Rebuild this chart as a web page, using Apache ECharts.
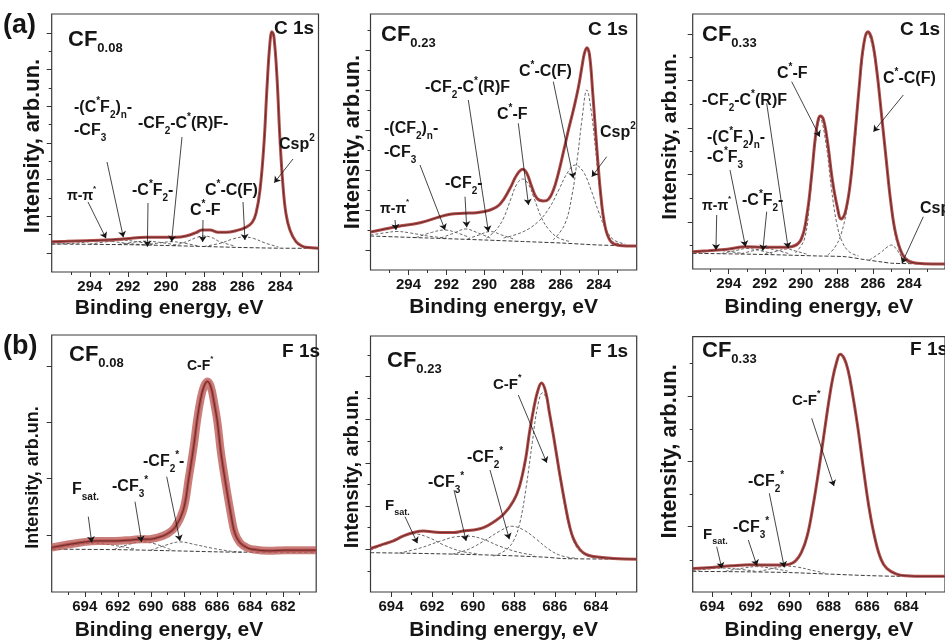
<!DOCTYPE html>
<html>
<head>
<meta charset="utf-8">
<script src="https://cdn.jsdelivr.net/npm/echarts@6/dist/echarts.min.js"></script>
<style>
html, body { margin: 0; padding: 0; background: #fff; }
#main { width: 945px; height: 642px; }
</style>
</head>
<body>
<div id="main"></div>
<script>
// ---- tick values ----
var cTickLabels = [284, 286, 288, 290, 292, 294];
var cMinorTicks = [283, 285, 287, 289, 291, 293, 295];
var f008TickLabels = [682, 684, 686, 688, 690, 692, 694];
var f008MinorTicks = [681, 683, 685, 687, 689, 691, 693, 695];
var fTickLabels = [684, 686, 688, 690, 692, 694];
var fMinorTicks = [683, 685, 687, 689, 691, 693];

var c008YMajor = [19, 55.7, 92.4, 129.1, 165.8, 202.5, 239.2];
var c008YMinor = [37.4, 74, 110.8, 147.5, 184.2, 220.9];
var c023YMajor = [20, 60, 100, 140, 180, 220];
var c023YMinor = [40, 80, 120, 160, 200, 240];
var c033YMajor = [47, 94.3, 141, 188.3, 235];
var c033YMinor = [23.5, 70.7, 117.7, 164.7, 211.7];
var f008YMajor = [57, 114, 170, 227];
var f008YMinor = [];
var f023YMajor = [43, 86.3, 129.7, 173, 216.3];
var f023YMinor = [21.3, 64.7, 108, 151.3, 194.7, 238];
var f033YMajor = [65.7, 131.3, 196.3];
var f033YMinor = [32.3, 98, 163.7, 229.7];

// ---- C 1s, CF0.08 : [binding energy, intensity] ----
var c008Spectrum = [[296,30.3],[295.24,30.7],[294.2,31.3],[293.15,32],[292.1,33.3],[291.05,34.7],[290,34.7],[289.48,34.7],[288.95,36],[288.43,39.3],[288.11,42],[287.69,42],[287.27,39.7],[286.85,39.7],[286.33,41.3],[285.81,44.7],[285.49,49.3],[285.28,58.7],[285.07,82],[284.86,128.7],[284.7,185.3],[284.55,228.7],[284.44,240.3],[284.34,235.3],[284.18,195.3],[284.02,132],[283.86,85.3],[283.71,58.7],[283.5,42],[283.18,30.3],[282.87,26],[282.66,24.7],[282,23.7]];
var c008Baseline = [[296,28],[292,27.3],[290,26.5],[288,25.5],[286,24.5],[284,23.8],[282,23.7]];
var c008Pi = [[296,28],[294.8,28.8],[293.9,30.5],[293.36,31.2],[292.8,30.5],[291.9,28.3],[290.9,27]];
var c008Cf3 = [[294,28],[293,30.5],[292.31,31.8],[291.6,30.5],[290.6,27.2]];
var c008Cf2 = [[292.5,27.5],[291.6,30],[291.05,30.8],[290.4,29.8],[289.4,26.8]];
var c008Cfr = [[291.1,27],[290.3,29.2],[289.69,30.3],[289.1,29],[288.3,26]];
var c008Cf = [[289.6,26.3],[288.9,30.5],[288.4,34.5],[288.01,36],[287.6,34.5],[287.2,30.5],[286.4,26]];
var c008Ccf = [[288,25.5],[287.1,29],[286.5,33],[285.91,35],[285.4,33.5],[284.8,29],[284.1,25]];

// ---- C 1s, CF0.23 ----
var c023Spectrum = [[296,38],[294.62,43.3],[293.39,47.3],[292.34,53.3],[291.82,55.7],[291.12,56.7],[290.41,57.3],[289.71,60],[289.18,66],[288.66,81.7],[288.31,95],[287.99,100.7],[287.78,96.7],[287.52,83.3],[287.25,71.7],[286.9,69],[286.64,70.7],[286.38,80],[286.12,96.7],[285.85,118.3],[285.59,140],[285.33,160],[285.06,183.3],[284.88,203.3],[284.75,216.7],[284.62,222.3],[284.48,215],[284.31,176.7],[284.09,120],[283.88,73.3],[283.66,43.3],[283.39,29.3],[283.04,25],[282.34,24],[282,24]];
var c023Baseline = [[296,34],[293,32],[290,30],[288,28.5],[286,27],[284,25],[282,24]];
var c023Pi = [[296,35],[295.3,37],[294.6,38.5],[293.9,37],[293,34],[292,32]];
var c023Cf3 = [[293.6,32.5],[292.8,37.5],[292.1,40],[291.5,37.5],[290.8,32.5]];
var c023Cf2 = [[292.3,32],[291.6,37],[291,41],[290.4,37.5],[289.7,32]];
var c023Cfr = [[290.9,31],[290.3,35],[289.7,38.5],[289.1,35],[288.4,30.5]];
var c023Cf = [[289.9,32],[289.4,40],[289,52],[288.6,72],[288.3,86],[288,91],[287.7,86],[287.4,72],[287,52],[286.6,40],[286.1,32],[285.5,28.5]];
var c023Ccf = [[289,32],[288,38],[287.2,48],[286.6,62],[286.1,80],[285.65,97],[285.24,105],[284.8,98],[284.4,80],[284,58],[283.6,40],[283.2,30],[282.6,26]];
var c023Csp = [[286.4,30],[285.8,45],[285.4,75],[285.1,115],[284.88,150],[284.62,180],[284.4,160],[284.15,118],[283.95,80],[283.7,45],[283.3,29],[282.8,26]];

// ---- C 1s, CF0.33 ----
var c033Spectrum = [[296,17.3],[295.13,18.3],[294.09,19.7],[293.05,22.3],[292.02,21.7],[290.98,21.7],[290.53,22.3],[290,29],[289.65,55.7],[289.39,95.7],[289.21,129],[289.04,149],[288.92,153],[288.74,149],[288.51,125.7],[288.25,89],[287.98,62.3],[287.76,50],[287.55,55.7],[287.28,82.3],[287.02,129],[286.76,182.3],[286.53,222.3],[286.28,237.3],[286.05,229],[285.79,199],[285.53,155.7],[285.26,109],[285,65.7],[284.74,35.7],[284.39,15.7],[284.04,8.3],[283.51,5.7],[282.72,5],[282,5]];
var c033Baseline = [[296,15.7],[292,14.5],[289,13],[287.55,12.3],[286.5,9.5],[285.5,7],[284.9,5.7],[282,5]];
var c033Pi = [[296,16],[295.2,17.5],[294.6,18.5],[294,17.5],[293.2,15.5]];
var c033Cf3 = [[294.4,15.5],[293.6,18.5],[293,20.5],[292.4,19],[291.6,15.5]];
var c033Cf2 = [[293.3,15.3],[292.6,18.5],[292,20.5],[291.4,19],[290.6,15]];
var c033Cfr = [[292,15],[291.3,18],[290.8,20],[290.3,18],[289.6,14.5]];
var c033Cf = [[290.3,16],[289.8,30],[289.5,70],[289.2,125],[288.92,150],[288.6,125],[288.3,80],[288,45],[287.7,27],[287.3,17],[286.8,13]];
var c033Ccf = [[288.5,14],[288.1,22],[287.76,35],[287.4,65],[287,125],[286.7,190],[286.28,235],[285.9,210],[285.5,150],[285.2,95],[284.9,50],[284.6,22],[284.2,8],[283.6,5.5]];
var c033Csp = [[286.2,9],[285.6,16],[285.2,22],[284.95,24],[284.7,20],[284.4,12],[284,6]];

// ---- F 1s, CF0.08 ----
var f008Spectrum = [[696,44.7],[694.23,49.7],[693.2,51.3],[692.16,51.3],[691.13,52.3],[690.61,53],[690.1,53],[689.58,54.7],[689.06,58],[688.55,64.7],[688.03,83],[687.72,113],[687.41,146.3],[687.2,173],[687,193],[686.79,206.3],[686.58,211.3],[686.38,206.3],[686.17,189.7],[685.97,169.7],[685.76,139.7],[685.45,106.3],[685.14,76.3],[684.93,59.7],[684.62,49.7],[684.21,44.7],[683.9,43],[682.86,41.3],[681.83,42],[680,42]];
var f008Baseline = [[696,43],[692,42.5],[689,41.5],[686,40.3],[684.5,40],[680,40]];
var f008Sat = [[696,43.5],[694.6,47],[693.5,49],[692.3,47],[691,43.2]];
var f008Cf3 = [[692.2,43],[691.3,48],[690.5,50.5],[689.7,48],[688.8,42.5]];
var f008Cf2 = [[690,42],[689.1,47],[688.24,50.3],[687.3,47.5],[686.3,44],[685.2,41],[684.5,40]];

// ---- F 1s, CF0.23 ----
var f023Spectrum = [[695,43.7],[694.37,48],[693.88,51.3],[693.39,56.3],[692.9,59.7],[692.42,61.3],[691.93,60.3],[691.44,59.7],[690.95,59.7],[690.46,61.3],[689.97,62.3],[689.48,64.7],[688.99,70.3],[688.5,78],[688.02,91.3],[687.72,106.3],[687.43,133],[687.24,159.7],[687.04,183],[686.84,201.3],[686.65,209.7],[686.45,201.3],[686.26,179.7],[686.06,156.3],[685.77,119.7],[685.48,86.3],[685.28,66.3],[685.08,53],[684.79,43],[684.5,38],[684.11,35.7],[683.13,33.7],[682,33]];
var f023Baseline = [[695,39.5],[692,38.5],[689,37],[686.5,35],[685.5,33.5],[682,33]];
var f023Sat = [[695,42],[694.3,48],[693.6,55],[692.9,58.5],[692.2,55],[691.4,47],[690.6,41],[689.8,38.5]];
var f023Cf3 = [[693.6,39],[692.6,44],[691.6,51],[690.8,55.5],[690.2,56],[689.5,53],[688.7,46],[687.8,40],[687,37]];
var f023Cf2 = [[691,38],[690.2,43],[689.4,52],[688.7,61],[688.1,66],[687.5,62],[686.9,53],[686.3,43],[685.7,36.5],[685,34]];
var f023Cf = [[689,36],[688.4,42],[688,52],[687.7,70],[687.4,105],[687.1,150],[686.85,185],[686.6,200],[686.35,190],[686.1,160],[685.8,120],[685.5,85],[685.2,58],[684.9,44],[684.5,37],[684,34]];

// ---- F 1s, CF0.33 ----
var f033Spectrum = [[695,23.7],[694,24.7],[693,26.3],[692,27.3],[691,27],[690.5,27],[690,28],[689.7,31.3],[689.4,39.7],[689.1,56.3],[688.8,86.3],[688.5,123],[688.2,163],[688,189.7],[687.8,213],[687.6,229.7],[687.4,238.7],[687.2,234.7],[687,223],[686.8,203],[686.5,166.3],[686.2,123],[685.9,83],[685.6,53],[685.3,33],[685,23.7],[684.5,18],[684,16.3],[683,15.7],[682,15.7]];
var f033Baseline = [[695,20.7],[692,20.2],[690,19.5],[688,18],[686,16.5],[684.5,15.8],[682,15.7]];
var f033Sat = [[695,21.5],[694.2,23],[693.5,24],[692.7,23],[691.8,21]];
var f033Cf3 = [[693.3,21],[692.4,24],[691.7,25.5],[691,24],[690.1,21]];
var f033Cf2 = [[691.6,20.5],[690.8,24],[690.2,26],[689.6,25],[688.9,22],[688.2,19]];

var FONT = '"Liberation Sans", Arial, sans-serif';
var INK = '#151515';
var RED = '#b44e4c';

// panel layout, annotation texts [markup, x, y, size] and arrows [x0, y0, energy, intensity]
var panels = [
  { box: [51.7, 14, 266.8, 258], range: [282, 296], labels: cTickLabels, minors: cMinorTicks,
    yMajor: c008YMajor, yMinor: c008YMinor, yGap: 8, ySize: 22, yPad: [0, 6, 0, 0], xGap: 26, xPad: [0, 32, 0, 0],
    spec: c008Spectrum, base: c008Baseline, comps: [c008Pi, c008Cf3, c008Cf2, c008Cfr, c008Cf, c008Ccf], noisy: false,
    texts: [['(a)', 3, 26, 27], ['CF_{0.08}', 68, 40, 22], ['C 1s', 274, 28.5, 19],
      ['-(C^*F_2)_n-', 74, 108, 16], ['-CF_3', 74, 131, 16], ['-CF_2-C^*(R)F-', 138, 124, 16],
      ['π-π^*', 67, 196, 14], ['-C^*F_2-', 132, 191, 16], ['C^*-C(F)', 205, 191, 16],
      ['C^*-F', 190, 211, 16], ['Csp^2', 279, 145, 16]],
    arrows: [[88, 202, 293.15, 33.7], [107, 162, 292.24, 34.7], [148, 203, 290.98, 25.3],
      [182, 137, 289.71, 30.3], [203, 220, 288.08, 30], [243, 202, 285.86, 32], [293, 159, 284.32, 89.3]] },
  { box: [370.5, 14, 266.2, 256], range: [282, 296], labels: cTickLabels, minors: cMinorTicks,
    yMajor: c023YMajor, yMinor: c023YMinor, yGap: 7, ySize: 22, yPad: [0, 0, 0, 0], xGap: 27, xPad: [0, 0, 0, 0],
    spec: c023Spectrum, base: c023Baseline, comps: [c023Pi, c023Cf3, c023Cf2, c023Cfr, c023Cf, c023Ccf, c023Csp], noisy: false,
    texts: [['CF_{0.23}', 381, 34.5, 22], ['C 1s', 588, 30, 19], ['-CF_2-C^*(R)F', 425, 88, 16],
      ['C^*-C(F)', 519, 72, 16], ['C^*-F', 497, 115, 16], ['-(CF_2)_n-', 384, 129, 16],
      ['-CF_3', 384, 153, 16], ['-CF_2-', 445, 184, 16], ['π-π^*', 380, 209, 14], ['Csp^2', 600, 133, 16]],
    arrows: [[395, 220, 294.66, 40], [420, 165, 292.08, 40], [465, 196.7, 290.94, 42.7],
      [468.3, 100, 289.8, 38.3], [518.3, 123.3, 287.69, 65], [553.3, 81.7, 285.33, 91.7], [606.7, 156.7, 284.36, 93.3]] },
  { box: [692.7, 14, 266, 255], range: [282, 296], labels: cTickLabels, minors: cMinorTicks,
    yMajor: c033YMajor, yMinor: c033YMinor, yGap: 12, ySize: 21, yPad: [0, 0, 0, 10], xGap: 28, xPad: [0, 0, 0, 0],
    spec: c033Spectrum, base: c033Baseline, comps: [c033Pi, c033Cf3, c033Cf2, c033Cfr, c033Cf, c033Ccf, c033Csp], noisy: false,
    texts: [['CF_{0.33}', 702, 34.5, 22], ['C 1s', 900, 30, 19], ['C^*-F', 777, 74, 16],
      ['C^*-C(F)', 883, 79, 16], ['-CF_2-C^*(R)F', 702, 101, 16], ['-(C^*F_2)_n-', 707, 138, 16],
      ['-C^*F_3', 707, 158, 16], ['π-π^*', 702, 206, 14], ['-C^*F_2-', 742, 201, 16], ['Csp^2', 920, 209, 16]],
    arrows: [[791.7, 81.7, 288.95, 132.3], [903.3, 95, 285.97, 137.3], [766.7, 103.3, 290.7, 20.7],
      [730, 170, 293.07, 22.3], [766.7, 211.7, 292.11, 18.3], [716.7, 215, 294.71, 19], [923.3, 216.7, 284.39, 5.7]] },
  { box: [51.7, 335, 264.5, 258], range: [680, 696], labels: f008TickLabels, minors: f008MinorTicks,
    yMajor: f008YMajor, yMinor: f008YMinor, yGap: 10, ySize: 18, yPad: [0, 28, 0, 0], xGap: 28, xPad: [0, 30, 0, 0],
    spec: f008Spectrum, base: f008Baseline, comps: [f008Sat, f008Cf3, f008Cf2], noisy: true,
    texts: [['(b)', 3, 347, 27], ['CF_{0.08}', 69, 354.5, 22], ['F 1s', 282, 351.5, 19],
      ['C-F^*', 187, 366, 14], ['-CF_2^*-', 143, 462, 16], ['-CF_3^*', 112, 487, 16], ['F_{sat.}', 72, 490, 16]],
    arrows: [[88.3, 516.7, 693.58, 49.7], [135, 501.7, 690.56, 50.3], [166.7, 476.7, 688.24, 51.3]] },
  { box: [370.5, 336, 266.2, 257], range: [682, 695], labels: fTickLabels, minors: fMinorTicks,
    yMajor: f023YMajor, yMinor: f023YMinor, yGap: 8, ySize: 20, yPad: [0, 10, 0, 0], xGap: 28, xPad: [0, 0, 0, 0],
    spec: f023Spectrum, base: f023Baseline, comps: [f023Sat, f023Cf3, f023Cf2, f023Cf], noisy: false,
    texts: [['CF_{0.23}', 387, 360.5, 22], ['F 1s', 590, 352, 19], ['C-F^*', 493, 385, 15],
      ['-CF_2^*', 467, 458, 16], ['-CF_3^*', 428, 483, 16], ['F_{sat.}', 385, 506, 15]],
    arrows: [[518.3, 395, 686.39, 129.7], [490, 470, 688.22, 53], [454, 490, 690.33, 51.3], [405, 516.7, 692.71, 49]] },
  { box: [692.7, 336.7, 266, 256.3], range: [682, 695], labels: fTickLabels, minors: fMinorTicks,
    yMajor: f033YMajor, yMinor: f033YMinor, yGap: 12, ySize: 22, yPad: [0, 0, 0, 26], xGap: 28, xPad: [0, 0, 0, 0],
    spec: f033Spectrum, base: f033Baseline, comps: [f033Sat, f033Cf3, f033Cf2], noisy: false,
    texts: [['CF_{0.33}', 702, 350.5, 22], ['F 1s', 910, 350, 19], ['C-F^*', 792, 401, 15],
      ['-CF_2^*', 748, 482, 16], ['F_{sat.}', 703, 535, 15], ['-CF_3^*', 733, 528, 16]],
    arrows: [[811.7, 418.3, 687.72, 106.3], [769.3, 493.3, 690.28, 24.7], [748.3, 540, 691.69, 26.3], [716.7, 546.7, 693.5, 23.7]] }
];

// '_x' / '_{..}' = subscript, '^x' = superscript
function toRich(s) {
  var out = '', buf = '', i = 0;
  function push(st, t) { if (t) out += '{' + st + '|' + t + '}'; }
  while (i < s.length) {
    var ch = s.charAt(i);
    if (ch === '_' || ch === '^') {
      push('n', buf); buf = '';
      var t;
      if (s.charAt(i + 1) === '{') {
        var j = s.indexOf('}', i);
        t = s.slice(i + 2, j); i = j + 1;
      } else {
        t = s.charAt(i + 1); i += 2;
      }
      push(ch === '_' ? 'b' : 'p', t);
    } else {
      buf += ch; i++;
    }
  }
  push('n', buf);
  return out;
}

function richStyles(sz) {
  var small = Math.round(sz * 0.6);
  return {
    n: { fontSize: sz, fontWeight: 'bold', fontFamily: FONT, lineHeight: sz + 8, fill: INK },
    b: { fontSize: small, fontWeight: 'bold', fontFamily: FONT, verticalAlign: 'bottom', fill: INK },
    p: { fontSize: small, fontWeight: 'bold', fontFamily: FONT, verticalAlign: 'top', fill: INK }
  };
}

var grids = [], xAxes = [], yAxes = [], series = [], graphics = [];
var nameStyle = { fontFamily: FONT, fontWeight: 'bold', color: INK };

panels.forEach(function (p, i) {
  var ymax = p.box[3];
  grids.push({ left: p.box[0], top: p.box[1], width: p.box[2], height: p.box[3],
    show: true, borderColor: '#3a3a3a', borderWidth: 1.2, backgroundColor: 'transparent' });

  xAxes.push({ gridIndex: i, type: 'value', inverse: true, min: p.range[0], max: p.range[1], position: 'bottom',
    axisLine: { show: false }, splitLine: { show: false },
    axisTick: { length: 5, customValues: p.labels, lineStyle: { color: '#333', width: 1 } },
    axisLabel: { customValues: p.labels, margin: 7, fontSize: 15, fontWeight: 'bold', fontFamily: FONT, color: INK },
    name: 'Binding energy, eV', nameLocation: 'middle', nameGap: p.xGap,
    nameTextStyle: Object.assign({ fontSize: 21, padding: p.xPad }, nameStyle) });
  xAxes.push({ gridIndex: i, type: 'value', inverse: true, min: p.range[0], max: p.range[1], position: 'bottom',
    axisLine: { show: false }, splitLine: { show: false }, axisLabel: { show: false },
    axisTick: { length: 3, customValues: p.minors, lineStyle: { color: '#333', width: 1 } } });

  yAxes.push({ gridIndex: i, type: 'value', min: 0, max: ymax, position: 'left',
    axisLine: { show: false }, splitLine: { show: false }, axisLabel: { show: false },
    axisTick: { length: 5, customValues: p.yMajor, lineStyle: { color: '#333', width: 1 } },
    name: 'Intensity, arb.un.', nameLocation: 'middle', nameGap: p.yGap,
    nameTextStyle: Object.assign({ fontSize: p.ySize, padding: p.yPad }, nameStyle) });
  yAxes.push({ gridIndex: i, type: 'value', min: 0, max: ymax, position: 'left',
    axisLine: { show: false }, splitLine: { show: false }, axisLabel: { show: false },
    axisTick: { show: p.yMinor.length > 0, length: 3, customValues: p.yMinor.length ? p.yMinor : [0], lineStyle: { color: '#333', width: 1 } } });

  var xi = i * 2, yi = i * 2;
  p.comps.forEach(function (c) {
    series.push({ type: 'line', xAxisIndex: xi, yAxisIndex: yi, data: c, showSymbol: false, smooth: 0.4,
      silent: true, lineStyle: { color: '#555', width: 0.9, type: [3, 2] }, z: 2 });
  });
  series.push({ type: 'line', xAxisIndex: xi, yAxisIndex: yi, data: p.base, showSymbol: false, smooth: 0.3,
    silent: true, lineStyle: { color: '#222', width: 0.9, type: [4, 2] }, z: 2 });
  if (p.noisy) {
    // wide band standing in for the scatter of the raw counts
    series.push({ type: 'line', xAxisIndex: xi, yAxisIndex: yi, data: p.spec, showSymbol: false, smooth: 0.4,
      silent: true, lineStyle: { color: '#bd5e59', width: 8, opacity: 0.8 }, z: 3 });
  }
  series.push({ type: 'line', xAxisIndex: xi, yAxisIndex: yi, data: p.spec, showSymbol: false, smooth: 0.4,
    silent: true, lineStyle: { color: RED, width: 3 }, z: 3 });
  series.push({ type: 'line', xAxisIndex: xi, yAxisIndex: yi, data: p.spec, showSymbol: false, smooth: 0.4,
    silent: true, lineStyle: { color: '#000', width: 0.8, opacity: 0.55 }, z: 4,
    markLine: { silent: true, symbol: ['none', 'arrow'], symbolSize: 6, label: { show: false },
      lineStyle: { color: INK, width: 0.8, type: 'solid' },
      data: p.arrows.map(function (a) { return [{ x: a[0], y: a[1] }, { coord: [a[2], a[3]] }]; }) } });

  p.texts.forEach(function (t) {
    graphics.push({ type: 'text', x: t[1], y: t[2], silent: true, z: 100,
      style: { text: toRich(t[0]), rich: richStyles(t[3]), fontFamily: FONT, fontWeight: 'bold',
        fontSize: t[3], fill: INK, align: 'left', verticalAlign: 'middle' } });
  });
});

var chartDom = document.getElementById('main');
var myChart = echarts.init(chartDom, null, { renderer: 'canvas' });
var option = {
  backgroundColor: '#fff',
  animation: false,
  grid: grids,
  xAxis: xAxes,
  yAxis: yAxes,
  series: series,
  graphic: graphics
};
myChart.setOption(option);
</script>
</body>
</html>
